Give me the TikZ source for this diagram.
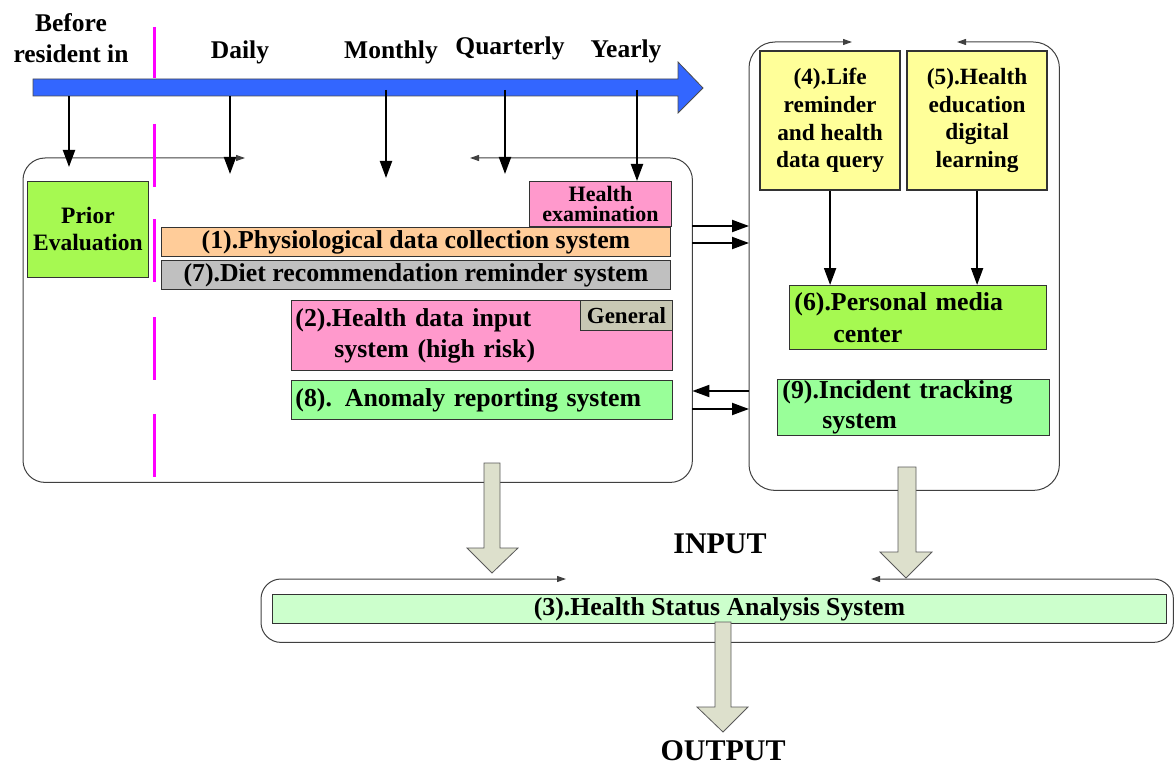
\documentclass[tikz,border=0pt]{standalone}
\usepackage{fontspec}
\setmainfont{Liberation Serif}[BoldFont={Liberation Serif Bold}]
\usetikzlibrary{arrows.meta}

\definecolor{tlblue}{HTML}{3366FF}
\definecolor{limegreen}{RGB}{166,249,81}
\definecolor{mintgreen}{HTML}{99FF99}
\definecolor{palegreen}{HTML}{CCFFCC}
\definecolor{pinkbox}{HTML}{FF99CC}
\definecolor{peach}{HTML}{FFCC99}
\definecolor{greybox}{HTML}{C0C0C0}
\definecolor{khaki}{HTML}{C8C8B4}
\definecolor{paleyellow}{HTML}{FFFF99}
\definecolor{arrowfill}{HTML}{DDE0CC}
\definecolor{dashpink}{HTML}{FF00FF}

\newcommand{\fsz}[2]{\fontsize{#1}{#2}\selectfont}

\begin{document}
\begin{tikzpicture}[x=1pt,y=-1pt,
  every node/.style={font=\bfseries\fsz{25.5}{28}},
  box/.style={draw=black!80, line width=0.9pt, inner sep=0pt, anchor=north west},
  region/.style={inner sep=0pt, anchor=north west, draw=none},
  panelline/.style={draw=black!75, line width=1pt,
    {Triangle[length=9pt,width=6pt]}-{Triangle[length=9pt,width=6pt]}},
  conn/.style={line width=2pt, -{Triangle[length=17pt,width=12pt]}},
  magline/.style={dashpink, line width=3pt},
  hollow/.style={fill=arrowfill, draw=black!65, line width=0.8pt, line join=miter},
  lbl/.style={anchor=base}
]
\useasboundingbox (0,0) rectangle (1176,765);

% ---- timeline ----
\draw[black!70, line width=0.8pt, fill=tlblue]
  (33,79) -- (678,79) -- (678,62) -- (703,88) -- (678,113) -- (678,96) -- (33,96) -- cycle;
\node[align=center, font=\bfseries\fsz{25.5}{31}] (lBefore) at (71,38) {Before\\resident in};
\node[lbl] (lDaily) at (240,59) {Daily};
\node[lbl] (lMonthly) at (391,59) {Monthly};
\node[lbl] (lQuarterly) at (510,55) {Quarterly};
\node[lbl] (lYearly) at (626,58) {Yearly};

% ---- panel regions ----
\node[region, minimum width=669pt, minimum height=324pt] (LP) at (23,158) {};
\node[region, minimum width=310pt, minimum height=448pt] (RP) at (749,42) {};
\node[region, minimum width=912pt, minimum height=63pt] (BP) at (261,579) {};

\draw[panelline, rounded corners=22pt]
  (245,158) -- (LP.north west) -- (LP.south west) -- (LP.south east) -- (LP.north east) -- (470,158);
\draw[panelline, rounded corners=26pt]
  (852,42) -- (RP.north west) -- (RP.south west) -- (RP.south east) -- (RP.north east) -- (957,42);
\draw[panelline, rounded corners=20pt]
  (566,579) -- (BP.north west) -- (BP.south west) -- (BP.south east) -- (BP.north east) -- (871,579);

% ---- stage separator ----
\draw[magline] (154,27) -- (154,78);
\draw[magline] (154,124) -- (154,187);
\draw[magline] (154,219) -- (154,282);
\draw[magline] (154,317) -- (154,380);
\draw[magline] (154,414) -- (154,477);

% ---- left panel systems ----
\node[box, fill=limegreen, minimum width=121pt, minimum height=96pt, align=center,
  font=\bfseries\fsz{23.5}{27}] (prior) at (27,181) {Prior\\Evaluation};
\node[box, fill=pinkbox, minimum width=142pt, minimum height=45pt, align=center,
  font=\bfseries\fsz{22}{20}] (hexam) at (529,181) {Health\\examination};
\node[box, fill=peach, minimum width=509pt, minimum height=29pt,
  font=\bfseries\fsz{25.8}{28}] (n1) at (161,227) {(1).Physiological data collection system};
\node[box, fill=greybox, minimum width=509pt, minimum height=29pt,
  font=\bfseries\fsz{25.8}{28}] (n7) at (161,260) {(7).Diet recommendation reminder system};
\node[box, fill=pinkbox, minimum height=70pt, inner xsep=4pt, text width=373pt, align=left,
  font=\bfseries\fsz{25.8}{31}] (n2) at (291,300)
  {(2).Health data input\\\hspace*{39pt}system (high risk)};
\node[box, fill=khaki, anchor=north east, minimum width=92pt, minimum height=30pt,
  font=\bfseries\fsz{23}{25}] (gen) at (n2.north east) {General};
\node[box, fill=mintgreen, minimum height=39pt, inner xsep=4pt, text width=373pt, align=left,
  font=\bfseries\fsz{25.8}{28}] (n8) at (291,380) {(8). Anomaly reporting system};

% ---- right panel systems ----
\node[box, fill=paleyellow, line width=2.2pt, minimum width=140pt, minimum height=139pt,
  align=center, font=\bfseries\fsz{23.3}{27.7}] (n4) at (759,50)
  {(4).Life\\reminder\\and health\\data query};
\node[box, fill=paleyellow, line width=2.2pt, minimum width=140pt, minimum height=139pt,
  align=center, font=\bfseries\fsz{23.3}{27.7}] (n5) at (906,50)
  {(5).Health\\education\\digital\\learning};
\node[box, fill=limegreen, minimum height=64pt, inner xsep=5pt, text width=247pt, align=left,
  font=\bfseries\fsz{25.8}{32}] (n6) at (789,285)
  {(6).Personal media\\\hspace*{39pt}center};
\node[box, fill=mintgreen, minimum height=56pt, inner xsep=5pt, text width=262pt, align=left,
  font=\bfseries\fsz{25.8}{30}] (n9) at (777,379)
  {(9).Incident tracking\\\hspace*{40pt}system};

% ---- analysis system ----
\node[box, fill=palegreen, minimum width=894pt, minimum height=29pt,
  font=\bfseries\fsz{25.8}{28}] (n3) at (272,594) {(3).Health Status Analysis System};

\node[lbl, font=\bfseries\fsz{30}{32}] (inp) at (720,553) {INPUT};
\node[lbl, font=\bfseries\fsz{30}{32}] (outp) at (723,760) {OUTPUT};

% ---- timeline triggers ----
\coordinate (tBefore) at (69,96);
\coordinate (tDaily) at (230,96);
\coordinate (tMonthly) at (386,90);
\coordinate (tQuarterly) at (505,90);
\coordinate (tYearly) at (637,90);
\coordinate (eBefore) at (69,167);
\coordinate (eDaily) at (230,174);
\coordinate (eMonthly) at (386,178);
\coordinate (eQuarterly) at (505,174);
\draw[conn] (tBefore) -- (eBefore);
\draw[conn] (tDaily) -- (eDaily);
\draw[conn] (tMonthly) -- (eMonthly);
\draw[conn] (tQuarterly) -- (eQuarterly);
\draw[conn] (tYearly) -- (tYearly |- hexam.north);

% ---- data flow between panels ----
\draw[conn] (LP.east |- 0,226) -- (RP.west |- 0,226);
\draw[conn] (LP.east |- 0,243) -- (RP.west |- 0,243);
\draw[conn] (RP.west |- 0,391) -- (LP.east |- 0,391);
\draw[conn] (LP.east |- 0,409) -- (RP.west |- 0,409);
\draw[conn] (n4.south) -- (n4.south |- n6.north);
\draw[conn] (n5.south) -- (n5.south |- n6.north);

% ---- block arrows into and out of the analysis system ----
\draw[hollow] (484,463) -- (500,463) -- (500,548) -- (518,548) -- (492,573)
  -- (467,548) -- (484,548) -- cycle;
\draw[hollow] (898,467) -- (916,467) -- (916,552) -- (932,552) -- (906,578)
  -- (880,552) -- (898,552) -- cycle;
\draw[hollow] (715,622) -- (731,622) -- (731,707) -- (748,707) -- (723,732)
  -- (697,707) -- (715,707) -- cycle;
\end{tikzpicture}
\end{document}
